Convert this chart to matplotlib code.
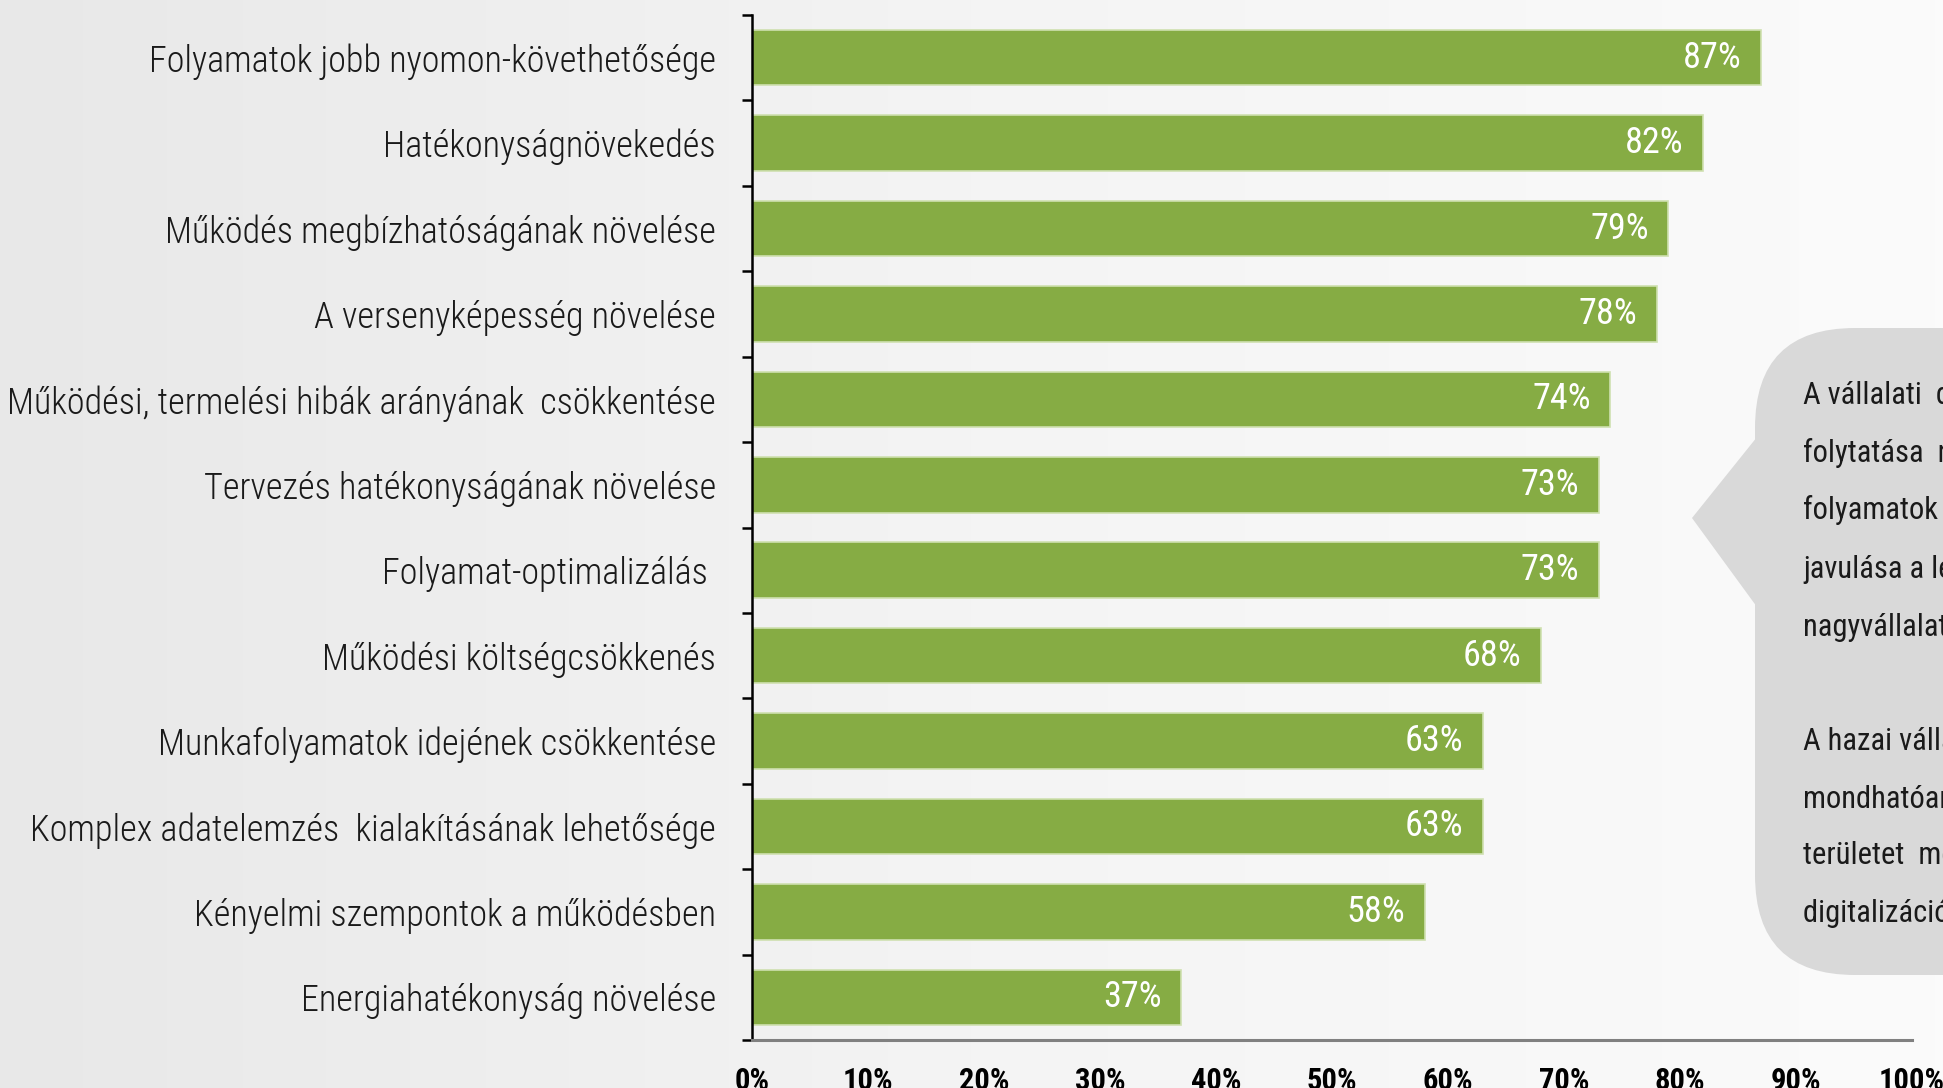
import numpy as np
import matplotlib
matplotlib.use("Agg")
import matplotlib.pyplot as plt
from matplotlib.colors import LinearSegmentedColormap
from matplotlib.patches import FancyBboxPatch, Polygon
from matplotlib.transforms import Affine2D

# data
categories = [
    "Folyamatok jobb nyomon-követhetősége",
    "Hatékonyságnövekedés",
    "Működés megbízhatóságának növelése",
    "A versenyképesség növelése",
    "Működési, termelési hibák arányának  csökkentése",
    "Tervezés hatékonyságának növelése",
    "Folyamat-optimalizálás ",
    "Működési költségcsökkenés",
    "Munkafolyamatok idejének csökkentése",
    "Komplex adatelemzés  kialakításának lehetősége",
    "Kényelmi szempontok a működésben",
    "Energiahatékonyság növelése",
]
values = [0.87, 0.82, 0.79, 0.78, 0.74, 0.73, 0.73, 0.68, 0.63, 0.63, 0.58, 0.37]
x_ticks = [0.0, 0.1, 0.2, 0.3, 0.4, 0.5, 0.6, 0.7, 0.8, 0.9, 1.0]
x_tick_labels = ["0%", "10%", "20%", "30%", "40%", "50%", "60%", "70%", "80%", "90%", "100%"]
callout_lines = [
    "A vállalati  digitalizáció",
    "folytatása  mellett",
    "folyamatok  átláthatósága",
    "javulása a legtöbb",
    "nagyvállalati  cél.",
    "",
    "A hazai vállalatok",
    "mondhatóan",
    "területet  mérve",
    "digitalizáció  szerint",
]

narrow = ["Roboto Condensed", "Liberation Sans Narrow", "Roboto"]
green = "#86AC44"
W, H = 1943, 1088

fig = plt.figure(figsize=(W / 100, H / 100), dpi=100)

# background gradient
bg = fig.add_axes([0, 0, 1, 1], zorder=0)
cmap = LinearSegmentedColormap.from_list("bg", ["#e8e8e8", "#f4f4f4", "#fbfbfb"])
bg.imshow(np.linspace(0, 1, 256)[None, :], cmap=cmap, aspect="auto", extent=[0, 1, 0, 1])
bg.axis("off")

ax = fig.add_axes([752 / W, 1 - 1040 / H, 1160 / W, 1025 / H], zorder=1)
ax.patch.set_alpha(0)

y = np.arange(len(categories))
bars = ax.barh(y, values, height=0.65, color=green, edgecolor="#cfe0b0", linewidth=1.2)
ax.set_ylim(len(categories) - 0.5, -0.5)
ax.set_xlim(0, 1)

for yi, v in zip(y, values):
    ax.annotate(f"{v * 100:.0f}%", (v, yi), xytext=(-14, 0), textcoords="offset points",
                ha="right", va="center", color="white", fontsize=26, family=narrow)

ax.set_yticks(y, categories, family=narrow, fontsize=26, color="#1a1a1a", fontweight="light")
ax.set_yticks(np.arange(-0.5, len(categories)), minor=True)
ax.tick_params(axis="y", which="major", length=0, pad=26)
ax.tick_params(axis="y", which="minor", length=7, width=1.8, color="black", direction="out")

ax.set_xticks(x_ticks, x_tick_labels, family=narrow, fontsize=22, fontweight="bold")
ax.tick_params(axis="x", length=0, pad=19)

for s in ["top", "right"]:
    ax.spines[s].set_visible(False)
ax.spines["left"].set_color("black")
ax.spines["left"].set_linewidth(1.8)
ax.spines["bottom"].set_color("#808080")
ax.spines["bottom"].set_linewidth(2.2)

# callout box (pixel coordinates, origin bottom-left)
px = Affine2D().scale(1 / W, 1 / H) + fig.transFigure
box = FancyBboxPatch((1755, 113), 400, 647, boxstyle="round,pad=0,rounding_size=100",
                     transform=px, facecolor="#d9d9d9", edgecolor="none", zorder=3)
fig.patches.append(box)
tri = Polygon([(1757, 651), (1692, 570), (1757, 481)], closed=True, transform=px,
              facecolor="#d9d9d9", edgecolor="none", zorder=3)
fig.patches.append(tri)

line_y = [396, 453, 510, 570, 628, None, 742, 799, 856, 914]
for txt, ly in zip(callout_lines, line_y):
    if ly is None:
        continue
    fig.text(1803, H - ly, txt, transform=px, ha="left", va="center", fontsize=22,
             family=narrow, color="#1a1a1a", zorder=4)

fig.savefig("out.png", dpi=100)
